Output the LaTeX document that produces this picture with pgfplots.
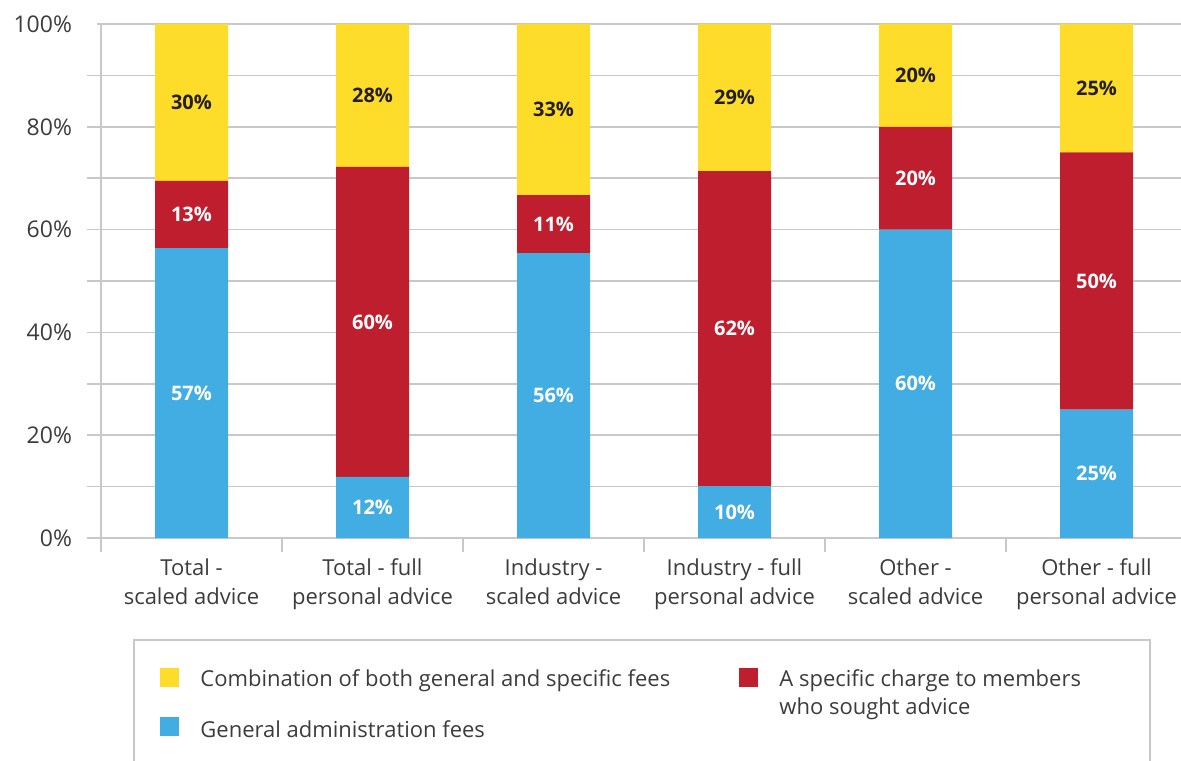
\documentclass[border=0pt]{standalone}
\usepackage{pgfplots}
\pgfplotsset{compat=1.18}
\usepackage{pgfplotstable}
\usepackage{fontspec}
\setmainfont{Open Sans}

\definecolor{feeyellow}{RGB}{254,220,42}
\definecolor{feered}{RGB}{190,30,45}
\definecolor{feeblue}{RGB}{66,173,226}
\definecolor{gridgray}{RGB}{200,200,200}
\definecolor{txtgray}{RGB}{60,60,60}
\definecolor{lbldark}{RGB}{35,31,32}

% segment heights (percent)
\pgfplotstableread{
x general specific combo
0 56.4 13.1 30.5
1 11.9 60.3 27.8
2 55.4 11.3 33.3
3 10.1 61.3 28.6
4 60.0 20.0 20.0
5 25.0 50.0 25.0
}\fees

% printed values, placed at the middle of each segment
\pgfplotstableread{
x y lab
0 28.2 57
1 5.95 12
2 27.7 56
3 5.05 10
4 30.0 60
5 12.5 25
0 62.95 13
1 42.05 60
2 61.05 11
3 40.75 62
4 70.0 20
5 50.0 50
}\whitelabels
\pgfplotstableread{
x y lab
0 84.75 30
1 86.1 28
2 83.35 33
3 85.7 29
4 90.0 20
5 87.5 25
}\darklabels

\pgfplotsset{
  feeframe/.style={
    width=543pt, height=257pt, scale only axis,
    xmin=-0.5, xmax=5.5, ymin=0, ymax=100,
  },
}

\begin{document}
\begin{tikzpicture}
\begin{axis}[
    feeframe,
    ybar stacked, bar width=36.5pt,
    axis lines=left,
    axis line style={gridgray, line width=1pt, -},
    ytick={0,10,...,100},
    yticklabels={0\%,,20\%,,40\%,,60\%,,80\%,,100\%},
    ymajorgrids, grid style={gridgray, line width=0.8pt},
    tick align=outside, major tick length=7pt,
    tick style={gridgray, line width=0.8pt},
    ytick style={shorten <=5pt},
    xtick={-0.5,0.5,...,5.5},
    x tick label as interval,
    xticklabels={Total -\\scaled advice, Total - full\\personal advice,
                 Industry -\\scaled advice, Industry - full\\personal advice,
                 Other -\\scaled advice, Other - full\\personal advice},
    xticklabel style={align=center, text=txtgray,
                      font=\fontsize{11}{14.5}\selectfont},
    yticklabel style={text=txtgray, xshift=-4pt,
                      font=\fontsize{11.5}{12}\selectfont},
]
\addplot[fill=feeblue, draw=none] table[x=x, y=general] {\fees};
\addplot[fill=feered, draw=none] table[x=x, y=specific] {\fees};
\addplot[fill=feeyellow, draw=none] table[x=x, y=combo] {\fees};
\end{axis}

\begin{axis}[
    feeframe, hide axis, clip=false,
    nodes near coords={\pgfplotspointmeta\%},
    point meta=explicit symbolic,
    every node near coord/.style={anchor=center,
        font=\fontsize{10}{11}\selectfont\bfseries},
]
\addplot[only marks, mark=none, nodes near coords style={text=white}]
  table[x=x, y=y, meta=lab] {\whitelabels};
\addplot[only marks, mark=none, nodes near coords style={text=lbldark}]
  table[x=x, y=y, meta=lab] {\darklabels};
\end{axis}

% legend box, in picture pixels (origin = top left of the 1181x760 image)
\begin{scope}[x=0.5pt, y=-0.5pt, shift={(-101,-538)}]
  \draw[gridgray, line width=0.8pt] (134,640) rectangle (1150,820);
  \fill[feeyellow] (160,668) rectangle (179,687);
  \fill[feeblue] (160,717) rectangle (179,736);
  \fill[feered] (739,668) rectangle (758,687);
  \begin{scope}[every node/.style={inner sep=0pt, text=txtgray,
                font=\fontsize{11}{14}\selectfont}]
    \node[anchor=base west] at (200,686) {Combination of both general and specific fees};
    \node[anchor=base west] at (200,737) {General administration fees};
    \node[anchor=base west] at (779,686) {A specific charge to members};
    \node[anchor=base west] at (779,714) {who sought advice};
  \end{scope}
  \pgfresetboundingbox
  \path[use as bounding box] (0,0) rectangle (1181,760);
\end{scope}
\end{tikzpicture}
\end{document}
